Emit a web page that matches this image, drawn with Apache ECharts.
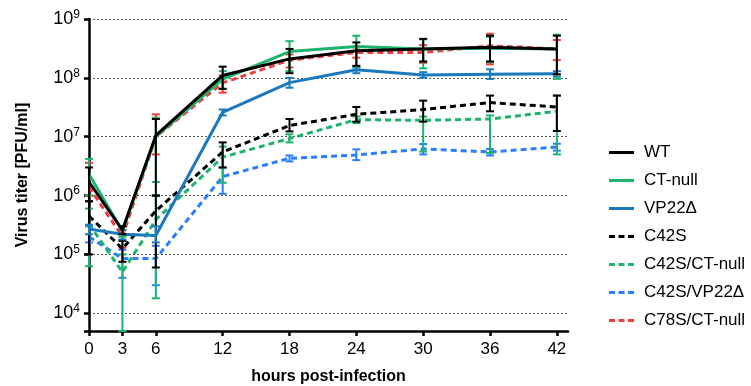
<!DOCTYPE html>
<html>
<head>
<meta charset="utf-8">
<title>Virus titer</title>
<script src="https://cdn.jsdelivr.net/npm/echarts@6/dist/echarts.min.js"></script>
<style>
    body { margin: 0; background: #fff; }
</style>
</head>
<body>
<div id="container" style="width: 751px; height: 386px;"></div>
<script>
    // time points (hours post-infection)
    var hours = [0, 3, 6, 12, 18, 24, 30, 36, 42];
    var xTicks = [0, 3, 6, 12, 18, 24, 30, 36, 42];

    // mean titers and error bar ends (PFU/ml)
    var wt      = [1.7e6, 2.6e5, 1.05e7, 1.1e8, 2.1e8, 2.9e8, 3.1e8, 3.3e8, 3.1e8];
    var wtLo    = [8e5, 2.2e5, 1.0e6, 6.5e7, 1.2e8, 1.6e8, 1.9e8, 1.9e8, 1.15e8];
    var wtHi    = [3.0e6, 3.0e5, 2.0e7, 1.55e8, 3.1e8, 4.0e8, 4.6e8, 5.2e8, 5.2e8];

    var ctNull   = [2.3e6, 2.5e5, 1.0e7, 9.5e7, 2.8e8, 3.4e8, 3.1e8, 3.2e8, 3.1e8];
    var ctNullLo = [1.0e6, 2.0e5, 1.7e6, 6.5e7, 1.3e8, 1.55e8, 1.45e8, 1.85e8, 9.6e7];
    var ctNullHi = [4.2e6, 3.0e5, 2.1e7, 1.3e8, 4.2e8, 5.2e8, 4.5e8, 5.0e8, 5.4e8];

    var vp22   = [2.7e5, 2.2e5, 2.1e5, 2.6e7, 8.3e7, 1.37e8, 1.12e8, 1.15e8, 1.18e8];
    var vp22Lo = [2.2e5, 1.8e5, 1.6e5, 2.3e7, 6.8e7, 1.2e8, 1.0e8, 9.6e7, 1.05e8];
    var vp22Hi = [3.2e5, 2.6e5, 3.0e5, 2.9e7, 1.0e8, 1.5e8, 1.25e8, 1.4e8, 1.3e8];

    var c42s   = [4.5e5, 1.25e5, 5.5e5, 5.5e6, 1.55e7, 2.4e7, 2.9e7, 3.8e7, 3.2e7];
    var c42sLo = [1.0e5, 7.5e4, 6e4, 3e6, 1.23e7, 1.8e7, 1.8e7, 2.7e7, 1.25e7];
    var c42sHi = [8e5, 1.7e5, 1.0e6, 8e6, 2.0e7, 3.2e7, 4.1e7, 5.0e7, 5.0e7];

    var c42sCt   = [3.3e5, 5e4, 3.9e5, 4.5e6, 9.3e6, 1.95e7, 1.9e7, 2.0e7, 2.7e7];
    var c42sCtLo = [6.3e4, 5e3, 1.8e4, 1.65e6, 8e6, 1.7e7, 5.6e6, 5.3e6, 5e6];
    var c42sCtHi = [6e5, 1e5, 1.0e6, 6.8e6, 1.1e7, 2.2e7, 2.2e7, 2.3e7, 5e7];

    var c42sVp   = [2.0e5, 8.5e4, 8.5e4, 2.1e6, 4.3e6, 4.9e6, 6.2e6, 5.5e6, 6.7e6];
    var c42sVpLo = [1.6e5, 4e4, 3e4, 1.07e6, 3.8e6, 4.0e6, 5.0e6, 4.8e6, 5.8e6];
    var c42sVpHi = [3.0e5, 1.2e5, 1.4e5, 3.0e6, 4.8e6, 6.1e6, 7.5e6, 6.2e6, 7.6e6];

    var c78sCt   = [1.4e6, 2.0e5, 1.0e7, 8.2e7, 2.0e8, 2.7e8, 2.7e8, 3.5e8, 3.1e8];
    var c78sCtLo = [1.0e6, 1.3e5, 5e6, 5.6e7, 1.5e8, 2.2e8, 1.8e8, 1.7e8, 2.0e8];
    var c78sCtHi = [3.6e6, 2.6e5, 2.4e7, 1.1e8, 2.5e8, 3.3e8, 3.6e8, 5.6e8, 4.4e8];

    var font = 'Liberation Sans, Arial, sans-serif';

    // legend icons: a full bar for solid lines, three short bars for dashed ones
    var solidIcon = 'path://M0,0h25v3h-25z';
    var dashIcon = 'path://M0,0h6v3h-6z M9.5,0h6v3h-6z M19,0h6v3h-6z';

    var groups = [
        {name: 'WT', mean: wt, lo: wtLo, hi: wtHi, color: '#000000', dash: 'solid', z: 9},
        {name: 'CT-null', mean: ctNull, lo: ctNullLo, hi: ctNullHi, color: '#1db46e', dash: 'solid', z: 8},
        {name: 'VP22\u0394', mean: vp22, lo: vp22Lo, hi: vp22Hi, color: '#1b79bd', dash: 'solid', z: 7},
        {name: 'C42S', mean: c42s, lo: c42sLo, hi: c42sHi, color: '#000000', dash: [6, 4], z: 6},
        {name: 'C42S/CT-null', mean: c42sCt, lo: c42sCtLo, hi: c42sCtHi, color: '#1db46e', dash: [6, 4], z: 5},
        {name: 'C42S/VP22\u0394', mean: c42sVp, lo: c42sVpLo, hi: c42sVpHi, color: '#2a7fff', dash: [6, 4], z: 4},
        {name: 'C78S/CT-null', mean: c78sCt, lo: c78sCtLo, hi: c78sCtHi, color: '#f23d3d', dash: [6, 4], z: 3}
    ];

    function errorBar(color) {
        return function (params, api) {
            var x = api.value(0);
            var a = api.coord([x, api.value(1)]);
            var b = api.coord([x, api.value(2)]);
            var w = 4;
            var st = {stroke: color, lineWidth: 2};
            return {
                type: 'group',
                children: [
                    {type: 'line', shape: {x1: a[0], y1: a[1], x2: b[0], y2: b[1]}, style: st},
                    {type: 'line', shape: {x1: a[0] - w, y1: a[1], x2: a[0] + w, y2: a[1]}, style: st},
                    {type: 'line', shape: {x1: b[0] - w, y1: b[1], x2: b[0] + w, y2: b[1]}, style: st}
                ]
            };
        };
    }

    var series = [];
    groups.forEach(function (g) {
        series.push({
            name: g.name,
            type: 'line',
            symbol: 'none',
            z: g.z,
            data: hours.map(function (h, i) { return [h, g.mean[i]]; }),
            lineStyle: {color: g.color, width: 3, type: g.dash},
            itemStyle: {color: g.color}
        });
        series.push({
            name: g.name + ' err',
            type: 'custom',
            z: g.z,
            renderItem: errorBar(g.color),
            data: hours.map(function (h, i) { return [h, g.lo[i], g.hi[i]]; })
        });
    });

    var dom = document.getElementById('container');
    var myChart = echarts.init(dom, null, {renderer: 'canvas'});
    var option = {
        animation: false,
        grid: {left: 89, right: 183, top: 19, bottom: 55, outerBoundsMode: 'none', containLabel: false},
        legend: {
            data: groups.map(function (g) {
                return {name: g.name, icon: g.dash === 'solid' ? solidIcon : dashIcon};
            }),
            orient: 'vertical',
            left: 604,
            top: 139,
            itemWidth: 25,
            itemHeight: 3.5,
            itemGap: 11,
            textStyle: {fontFamily: font, fontSize: 17, color: '#000', lineHeight: 17, padding: [0, 0, 0, 5]}
        },
        xAxis: {
            type: 'value',
            min: 0,
            max: 43,
            name: 'hours post-infection',
            nameLocation: 'middle',
            nameGap: 38,
            nameTextStyle: {fontFamily: font, fontSize: 16, fontWeight: 'bold', color: '#000'},
            axisLine: {lineStyle: {color: '#000', width: 2.5}},
            axisTick: {show: true, length: 5, lineStyle: {color: '#000', width: 2.5}, customValues: xTicks},
            axisLabel: {fontFamily: font, fontSize: 17, color: '#000', margin: 10, customValues: xTicks},
            splitLine: {show: false}
        },
        yAxis: {
            type: 'log',
            logBase: 10,
            min: 5000,
            max: 1e9,
            name: 'Virus titer [PFU/ml]',
            nameLocation: 'middle',
            nameGap: 58,
            nameTextStyle: {fontFamily: font, fontSize: 16, fontWeight: 'bold', color: '#000'},
            axisLine: {show: true, lineStyle: {color: '#000', width: 2.5}},
            axisTick: {show: true, length: 5, lineStyle: {color: '#000', width: 2.5}},
            axisLabel: {
                margin: 9,
                formatter: function (v) {
                    var e = Math.log10(v);
                    if (Math.abs(e - Math.round(e)) > 1e-6) return '';
                    return '{b|10}{s|' + Math.round(e) + '}';
                },
                rich: {
                    b: {fontFamily: font, fontSize: 18, color: '#000'},
                    s: {fontFamily: font, fontSize: 12, color: '#000', verticalAlign: 'top', padding: [0, 0, 9, 0]}
                }
            },
            splitLine: {show: true, lineStyle: {color: '#555', width: 1, type: [2, 2]}}
        },
        series: series
    };
    if (option && typeof option === 'object') {
        myChart.setOption(option);
    }
    window.addEventListener('resize', myChart.resize);
</script>
</body>
</html>
